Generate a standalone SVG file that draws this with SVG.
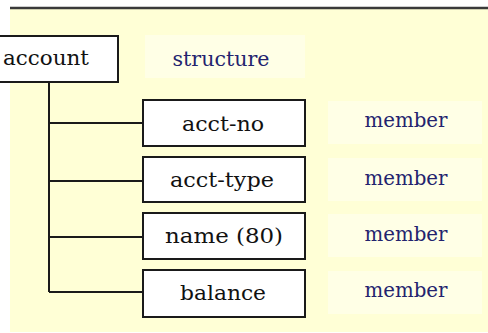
<svg xmlns="http://www.w3.org/2000/svg" width="488" height="333" viewBox="0 0 488 333">
<style>
.box{fill:#ffffff;stroke:#1a1a1a;stroke-width:2}
.cell{fill:#ffffe6}
.name{font-family:"DejaVu Serif","Liberation Serif",serif;font-size:21px;fill:#111111;text-anchor:middle}
.lbl{font-family:"DejaVu Serif","Liberation Serif",serif;font-size:20px;fill:#23236e;text-anchor:middle}
.conn{stroke:#1a1a1a;stroke-width:2;fill:none}
</style>
<rect x="0" y="0" width="488" height="333" fill="#ffffff"/>
<rect x="10" y="9" width="478" height="323" fill="#ffffd6"/>
<line x1="10" y1="8" x2="488" y2="8" stroke="#3a3a3a" stroke-width="2.5"/>
<g id="cells">
<rect class="cell" x="145" y="35" width="160" height="43"/>
<rect class="cell" x="328" y="101" width="154" height="43"/>
<rect class="cell" x="328" y="158" width="154" height="43"/>
<rect class="cell" x="328" y="214" width="154" height="43"/>
<rect class="cell" x="328" y="271" width="154" height="43"/>
</g>
<g id="connectors">
<path class="conn" d="M49 82 V292"/>
<path class="conn" d="M49 123 H143"/>
<path class="conn" d="M49 181 H143"/>
<path class="conn" d="M49 237 H143"/>
<path class="conn" d="M49 292 H143"/>
</g>
<g id="account">
<rect class="box" x="-2" y="36" width="120" height="46"/>
<text class="name" x="46" y="65" textLength="86" lengthAdjust="spacingAndGlyphs">account</text>
</g>
<g id="structure-label">
<text class="lbl" x="221" y="66" textLength="97" lengthAdjust="spacingAndGlyphs">structure</text>
</g>
<g id="acct-no">
<rect class="box" x="143" y="100" width="162" height="46"/>
<text class="name" x="223" y="131" textLength="82" lengthAdjust="spacingAndGlyphs">acct-no</text>
</g>
<g id="acct-type">
<rect class="box" x="143" y="157" width="162" height="45"/>
<text class="name" x="222" y="187" textLength="104" lengthAdjust="spacingAndGlyphs">acct-type</text>
</g>
<g id="name">
<rect class="box" x="143" y="213" width="162" height="46"/>
<text class="name" x="224" y="243" textLength="118" lengthAdjust="spacingAndGlyphs">name (80)</text>
</g>
<g id="balance">
<rect class="box" x="143" y="270" width="162" height="47"/>
<text class="name" x="223" y="300" textLength="86" lengthAdjust="spacingAndGlyphs">balance</text>
</g>
<g id="member-labels">
<text class="lbl" x="406" y="127" textLength="83" lengthAdjust="spacingAndGlyphs">member</text>
<text class="lbl" x="406" y="185" textLength="83" lengthAdjust="spacingAndGlyphs">member</text>
<text class="lbl" x="406" y="241" textLength="83" lengthAdjust="spacingAndGlyphs">member</text>
<text class="lbl" x="406" y="297" textLength="83" lengthAdjust="spacingAndGlyphs">member</text>
</g>
</svg>
